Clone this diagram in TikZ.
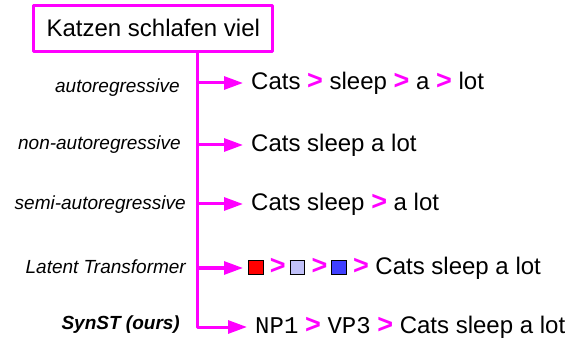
\documentclass[tikz,border=0pt]{standalone}
\usepackage{fontspec}
\setmainfont{Liberation Sans}
\setmonofont{Liberation Mono}
\usetikzlibrary{arrows.meta}
\definecolor{mag}{HTML}{FF00FF}
\definecolor{lav}{HTML}{C0C0F8}
\definecolor{blu}{HTML}{4040FF}
\newcommand{\nx}{{\color{mag}\fontsize{27}{28}\selectfont\bfseries >}}
\newcommand{\sqr}[1]{{\setlength{\fboxsep}{0pt}\setlength{\fboxrule}{0.8pt}\fcolorbox{black}{#1}{\rule{0pt}{13.5pt}\rule{13.5pt}{0pt}}}}
\begin{document}
\begin{tikzpicture}[x=1pt,y=-1pt,line join=round,>={Triangle[length=19pt,width=13pt]},
    lab/.style={anchor=east,inner sep=0pt,font=\fontsize{19}{23}\selectfont\itshape},
    res/.style={anchor=west,inner xsep=8pt,inner ysep=0pt,text height=17.5pt,text depth=5pt,font=\fontsize{24}{28}\selectfont}]
    \useasboundingbox (0,0) rectangle (579,342);
    \node[draw=mag,line width=3pt,minimum width=239pt,minimum height=46.5pt,font=\fontsize{24}{28}\selectfont] (src) at (153.3,28.4) {Katzen schlafen viel};
    \coordinate (t0) at (197,51.6);
    % outputs
    \node[res] (o1) at (243,83) {Cats \nx{} sleep \nx{} a \nx{} lot};
    \node[res] (o2) at (243,145) {Cats sleep a lot};
    \node[res] (o3) at (243,204) {Cats sleep \nx{} a lot};
    \node[res,inner xsep=5pt] (o4) at (243,268) {\sqr{red} \nx{}\,\sqr{lav} \nx{}\,\sqr{blu} \nx{} Cats sleep a lot};
    \node[res] (o5) at (247,327) {\texttt{NP1} \nx{} \texttt{VP3} \nx{} Cats sleep a lot};
    % labels
    \node[lab] (l1) at (180,88) {autoregressive};
    \node[lab] (l2) at (181,145) {non-autoregressive};
    \node[lab] (l3) at (186,205) {semi-autoregressive};
    \node[lab] (l4) at (186,267) {Latent Transformer};
    \node[lab,font=\fontsize{19}{23}\selectfont\bfseries\itshape] (l5) at (180,325) {SynST (ours)};
    \draw[mag,line width=3pt,->] (t0) |- (o5.west);
    \foreach \i in {1,...,4}
        \draw[mag,line width=3pt,->] (o\i.west -| t0) -- (o\i.west);
\end{tikzpicture}
\end{document}
